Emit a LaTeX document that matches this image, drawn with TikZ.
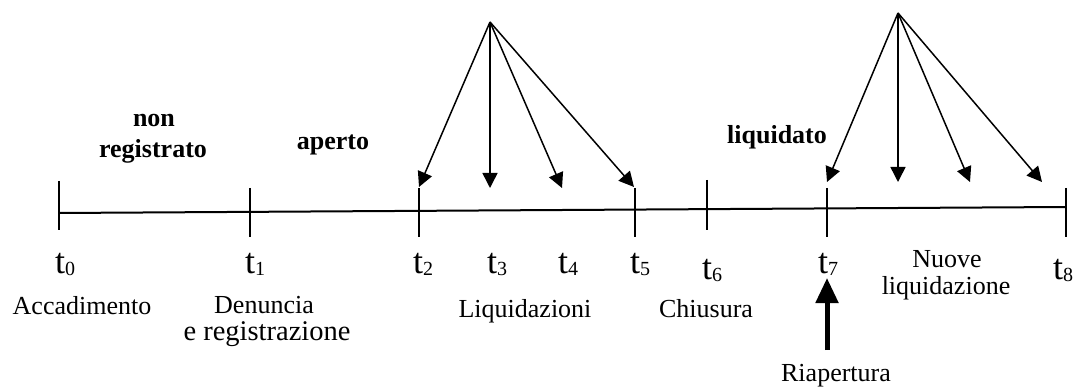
\documentclass[tikz,border=0pt]{standalone}
\usepackage{fontspec}
\setmainfont{Liberation Serif}
\usetikzlibrary{arrows.meta}
\newcommand{\tlab}[1]{{\fontsize{36}{40}\selectfont t}\raisebox{-2pt}{\fontsize{20}{24}\selectfont #1}}
\begin{document}
\begin{tikzpicture}[x=1pt,y=-1pt,
  lbl/.style={inner sep=0pt,anchor=base,font=\fontsize{26}{30}\selectfont},
  blbl/.style={inner sep=0pt,anchor=base,font=\fontsize{26}{30}\selectfont\bfseries},
  tlbl/.style={inner sep=0pt,anchor=base west},
  axisline/.style={line width=2pt},
  tick/.style={line width=1.6pt},
  fan/.style={line width=1.5pt,-{Triangle[length=15pt,width=15pt]}},
  bigarrow/.style={line width=5pt,-{Triangle[length=25pt,width=22pt]}}]
\useasboundingbox (0,0) rectangle (1084,390);
% axis points
\coordinate (a0) at (59,213);
\coordinate (a8) at (1066,207);
\draw[axisline] (a0) -- (a8);
% ticks
\coordinate (t0u) at (59,181);   \coordinate (t0d) at (59,230);
\coordinate (t1u) at (250,188);  \coordinate (t1d) at (250,237);
\coordinate (t2u) at (419,188);  \coordinate (t2d) at (419,237);
\coordinate (t5u) at (635,188);  \coordinate (t5d) at (635,237);
\coordinate (t6u) at (707,180);  \coordinate (t6d) at (707,230);
\coordinate (t7u) at (827,188);  \coordinate (t7d) at (827,237);
\coordinate (t8u) at (1066,188); \coordinate (t8d) at (1066,237);
\foreach \k in {0,1,2,5,6,7,8} \draw[tick] (t\k u) -- (t\k d);
% fan 1
\coordinate (p1) at (490,22);
\coordinate (e2) at (419,187);
\coordinate (e3) at (490,188);
\coordinate (e4) at (562,188);
\coordinate (e5) at (634,187);
\foreach \e in {e2,e3,e4,e5} \draw[fan] (p1) -- (\e);
% fan 2
\coordinate (p2) at (898,13);
\coordinate (f7) at (827,182);
\coordinate (f8) at (898,182);
\coordinate (f9) at (970,182);
\coordinate (f10) at (1042,182);
\foreach \e in {f7,f8,f9,f10} \draw[fan] (p2) -- (\e);
% state labels
\node[blbl] (non) at (154,127) {non};
\node[blbl] (reg) at (153,158) {registrato};
\node[blbl] (aperto) at (333,150) {aperto};
\node[blbl] (liq) at (777,144) {liquidato};
% t labels
\node[tlbl] (l0) at (55,273) {\tlab{0}};
\node[tlbl] (l1) at (245,273) {\tlab{1}};
\node[tlbl] (l2) at (413,273) {\tlab{2}};
\node[tlbl] (l3) at (487,273) {\tlab{3}};
\node[tlbl] (l4) at (558,273) {\tlab{4}};
\node[tlbl] (l5) at (630,273) {\tlab{5}};
\node[tlbl] (l6) at (702,279) {\tlab{6}};
\node[tlbl] (l7) at (818,273) {\tlab{7}};
\node[tlbl] (l8) at (1053,279) {\tlab{8}};
% descriptions
\node[lbl] (acc) at (82,314) {Accadimento};
\node[lbl] (den) at (264,313) {Denuncia};
\node[lbl,font=\fontsize{28.5}{32}\selectfont] (ereg) at (267,340) {e registrazione};
\node[lbl] (liqz) at (525,317) {Liquidazioni};
\node[lbl] (chi) at (706,317) {Chiusura};
\node[lbl] (nuove) at (947,267) {Nuove};
\node[lbl] (liqn) at (946,294) {liquidazione};
\node[lbl] (riap) at (836,381) {Riapertura};
% reopening arrow
\coordinate (rb) at (827,350);
\coordinate (rt) at (827,278);
\draw[bigarrow] (rb) -- (rt);
\end{tikzpicture}
\end{document}
